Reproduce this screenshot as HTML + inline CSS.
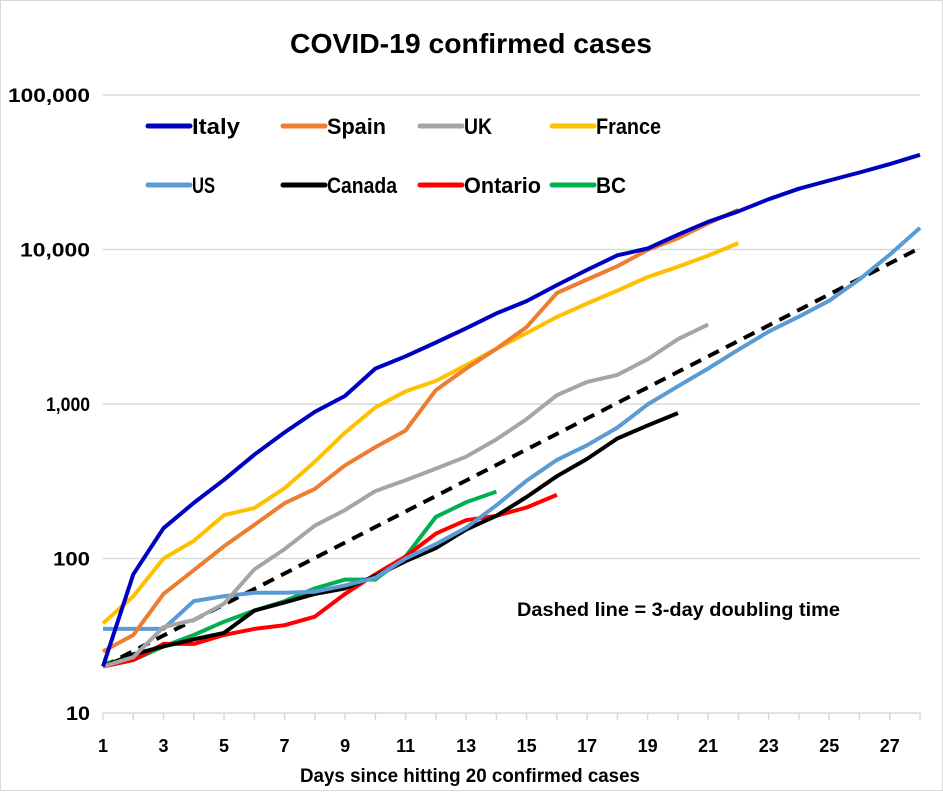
<!DOCTYPE html>
<html><head><meta charset="utf-8"><style>
body{margin:0;background:#fff}
svg text{font-family:"Liberation Sans",sans-serif;font-weight:bold;fill:#000}
</style></head><body>
<svg id="chart" width="943" height="791" xmlns="http://www.w3.org/2000/svg">
<rect x="0.5" y="0.5" width="942" height="790" fill="#fff" stroke="#d9d9d9"/>
<text x="471" y="53" font-size="28" text-anchor="middle" textLength="362" lengthAdjust="spacingAndGlyphs">COVID-19 confirmed cases</text>
<g id="grid"></g><g id="axes"></g><g id="series"></g><g id="legend"></g>
<text x="517" y="616" font-size="19" textLength="323" lengthAdjust="spacingAndGlyphs">Dashed line = 3-day doubling time</text>
<text x="470" y="782" font-size="19" text-anchor="middle" textLength="340" lengthAdjust="spacingAndGlyphs">Days since hitting 20 confirmed cases</text>
</svg>
<script>
const days = Array.from({length:28},(_,i)=>i+1);
const italy = [20,79,157,229,323,470,655,889,1128,1694,2036,2502,3089,3858,4636,5883,7375,9172,10149,12462,15113,17660,21157,24747,27980,31506,35713,41035];
const spain = [25,32,59,84,120,165,228,282,401,525,674,1231,1695,2277,3146,5232,6391,7798,9942,11826,14769,18077];
const uk = [20,23,36,40,51,85,115,163,206,273,321,382,456,590,798,1140,1391,1543,1950,2626,3269];
const france = [38,57,100,130,191,212,285,423,653,949,1209,1412,1784,2281,2876,3661,4469,5423,6633,7730,9134,10995];
const us = [35,35,35,53,57,60,60,61,67,75,100,124,158,221,319,435,541,704,994,1301,1697,2247,2943,3680,4663,6411,9259,13789];
const canada = [20,24,27,30,33,46,52,59,64,77,96,117,154,189,250,341,441,598,727,873];
const ontario = [20,22,28,28,32,35,37,42,59,79,103,145,177,189,214,258];
const bc = [21,22,27,32,39,46,53,64,73,73,103,186,231,271];
const doubling = days.map(d=>20*Math.pow(2,(d-1)/3));
const yTicks = [10,100,1000,10000,100000];
const yTickLabels = ["10","100","1,000","10,000","100,000"];
const xTickLabels = [1,3,5,7,9,11,13,15,17,19,21,23,25,27];

const X0=103,X1=920,Y10=713,DEC=154.5;
const x=d=>X0+(d-1)*(X1-X0)/27;
const y=v=>Y10-DEC*Math.log10(v/10);
const NS="http://www.w3.org/2000/svg";
function mk(tag,attrs,parent){const e=document.createElementNS(NS,tag);for(const k in attrs)e.setAttribute(k,attrs[k]);document.getElementById(parent).appendChild(e);return e;}

const yLabW=[24,37,44,70,82];
yTicks.forEach((t,i)=>{
  if(i>0){const g=mk('line',{x1:X0,x2:X1,y1:y(t),y2:y(t),stroke:'#d9d9d9','stroke-width':1.5},'grid');
  
  }
  const l=mk('text',{x:90,y:y(t)+7,'font-size':19,'text-anchor':'end',textLength:yLabW[i],lengthAdjust:'spacingAndGlyphs'},'axes');
  l.textContent=yTickLabels[i];
  
  
});
const ax=mk('line',{x1:X0,x2:X1,y1:Y10,y2:Y10,stroke:'#d9d9d9','stroke-width':1.5},'axes');


for(let d=1;d<=28;d++){const t=mk('line',{x1:x(d),x2:x(d),y1:Y10,y2:Y10+7,stroke:'#d9d9d9','stroke-width':1.5},'axes');

}
xTickLabels.forEach(d=>{const l=mk('text',{x:x(d),y:752,'font-size':18,'text-anchor':'middle'},'axes');
l.textContent=d;

});

function line(arr,color,name,dash){
  const pts=arr.map((v,i)=>x(i+1).toFixed(1)+','+y(v).toFixed(1)).join(' ');
  const p=mk('polyline',{points:pts,fill:'none',stroke:color,'stroke-width':4,'stroke-linejoin':'round'},'series');
  if(dash)p.setAttribute('stroke-dasharray','12,8');
  
  
}
line(doubling,'#000','doubling-line',true);
line(bc,'#00b050','series-bc');
line(ontario,'#ff0000','series-ontario');
line(canada,'#000000','series-canada');
line(us,'#5b9bd5','series-us');
line(uk,'#a5a5a5','series-uk');
line(france,'#ffc000','series-france');
line(spain,'#ed7d31','series-spain');
line(italy,'#0000c0','series-italy');

const legendNames=["Italy","Spain","UK","France","US","Canada","Ontario","BC"];
const legendColors=['#0000c0','#ed7d31','#a5a5a5','#ffc000','#5b9bd5','#000000','#ff0000','#00b050'];
const legW=[48,59,28,65,23,70,77,30];
const colX=[148,283,420,552];
legendNames.forEach((n,i)=>{
  const lx=colX[i%4],ly=i<4?126:185;
  const s=mk('line',{x1:lx,x2:lx+42,y1:ly,y2:ly,stroke:legendColors[i],'stroke-width':5,'stroke-linecap':'round'},'legend');
  
  
  const t=mk('text',{x:lx+44,y:ly+8,'font-size':22,textLength:legW[i],lengthAdjust:'spacingAndGlyphs'},'legend');
  t.textContent=n;
  
  
});
</script>
</body></html>
